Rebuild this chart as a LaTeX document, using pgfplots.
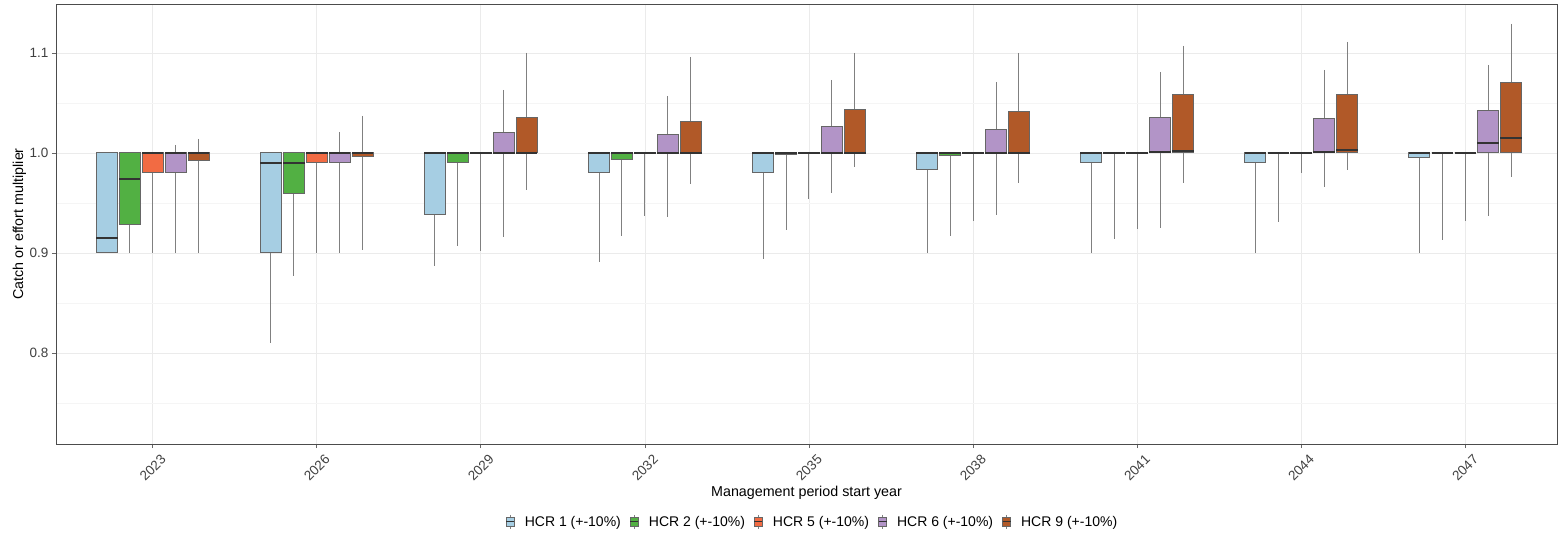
\documentclass[border=0pt]{standalone}
\usepackage{fontspec}
\setmainfont{Liberation Sans}
\usepackage{pgfplots}
\pgfplotsset{compat=1.18}
\usepgfplotslibrary{statistics}

\definecolor{hcrA}{HTML}{A6CEE3}
\definecolor{hcrB}{HTML}{52B043}
\definecolor{hcrC}{HTML}{F26B43}
\definecolor{hcrD}{HTML}{B294C7}
\definecolor{hcrE}{HTML}{B15928}

\pgfplotsset{
  hcrbox/.style={
    forget plot, draw=black!60, line width=1pt,
    boxplot/draw direction=y,
    boxplot/box extend=0.13, boxplot/whisker extend=0,
    boxplot/every whisker/.style={draw=black!50},
    boxplot/every median/.style={draw=black!80, line width=1.8pt},
  },
}
% colour, position, lower whisker, lower quartile, median, upper quartile, upper whisker
\newcommand{\bx}[7]{%
  \addplot[hcrbox, fill=#1, boxplot prepared={draw position=#2,
    lower whisker=#3, lower quartile=#4, median=#5,
    upper quartile=#6, upper whisker=#7}] coordinates {};}

\begin{document}
\begin{tikzpicture}
\path (-56pt,-91pt) rectangle (1502pt,444pt);
\begin{axis}[
  at={(0pt,0pt)}, anchor=south west,
  scale only axis,
  width=1501pt, height=440pt,
  xmin=-0.59, xmax=8.56, ymin=0.709, ymax=1.149,
  xtick={0,...,8},
  xticklabels={2023,2026,2029,2032,2035,2038,2041,2044,2047},
  ytick={0.8,0.9,1.0,1.1},
  minor ytick={0.75,0.85,0.95,1.05},
  grid=both,
  major grid style={black!8, line width=0.8pt},
  minor grid style={black!4, line width=0.5pt},
  axis line style={black!70, line width=0.8pt},
  tick style={black!60, line width=0.8pt},
  major tick length=4pt, minor tick length=0pt,
  tick align=outside, xtick pos=bottom, ytick pos=left,
  tick label style={font=\fontsize{13.5}{16}\selectfont, text=black!75},
  yticklabel style={/pgf/number format/.cd, fixed, fixed zerofill, precision=1, assume math mode=true},
  xticklabel style={rotate=45, anchor=center},
  xticklabel shift=20pt,
  xlabel={Management period start year},
  ylabel={Catch or effort multiplier},
  every axis x label/.style={at={(axis description cs:0.5,-0.11)}, anchor=center,
    font=\fontsize{14.3}{17}\selectfont},
  every axis y label/.style={at={(axis description cs:-0.0243,0.5)}, anchor=center, rotate=90,
    font=\fontsize{14.3}{17}\selectfont},
  legend style={at={(axis description cs:0.504,-0.177)}, anchor=center,
    legend columns=-1, draw=none, fill=none,
    font=\fontsize{14}{16}\selectfont,
    /tikz/every odd column/.append style={column sep=8pt},
    /tikz/every even column/.append style={column sep=7pt}},
  legend image code/.code={
    \draw[black!50, line width=0.6pt] (4pt,-7pt)--(4pt,7pt);
    \draw[#1, line width=0.8pt] (0pt,-4.5pt) rectangle (8pt,4.5pt);
    \draw[black!80, line width=1pt] (0pt,0pt)--(8pt,0pt);
  },
]
% HCR 1
\bx{hcrA}{-0.28}{0.900}{0.900}{0.915}{1.000}{1.000}
\bx{hcrA}{0.72}{0.810}{0.900}{0.990}{1.000}{1.000}
\bx{hcrA}{1.72}{0.887}{0.938}{1.000}{1.000}{1.000}
\bx{hcrA}{2.72}{0.891}{0.980}{1.000}{1.000}{1.000}
\bx{hcrA}{3.72}{0.894}{0.980}{1.000}{1.000}{1.000}
\bx{hcrA}{4.72}{0.900}{0.983}{1.000}{1.000}{1.000}
\bx{hcrA}{5.72}{0.900}{0.990}{1.000}{1.000}{1.000}
\bx{hcrA}{6.72}{0.900}{0.990}{1.000}{1.000}{1.000}
\bx{hcrA}{7.72}{0.900}{0.995}{1.000}{1.000}{1.000}
% HCR 2
\bx{hcrB}{-0.14}{0.900}{0.928}{0.974}{1.000}{1.000}
\bx{hcrB}{0.86}{0.877}{0.959}{0.990}{1.000}{1.000}
\bx{hcrB}{1.86}{0.907}{0.990}{1.000}{1.000}{1.000}
\bx{hcrB}{2.86}{0.917}{0.993}{1.000}{1.000}{1.000}
\bx{hcrB}{3.86}{0.923}{0.998}{1.000}{1.000}{1.000}
\bx{hcrB}{4.86}{0.917}{0.997}{1.000}{1.000}{1.000}
\bx{hcrB}{5.86}{0.914}{1.000}{1.000}{1.000}{1.000}
\bx{hcrB}{6.86}{0.931}{1.000}{1.000}{1.000}{1.000}
\bx{hcrB}{7.86}{0.913}{1.000}{1.000}{1.000}{1.000}
% HCR 5
\bx{hcrC}{0}{0.900}{0.980}{1.000}{1.000}{1.000}
\bx{hcrC}{1}{0.900}{0.990}{1.000}{1.000}{1.000}
\bx{hcrC}{2}{0.902}{1.000}{1.000}{1.000}{1.000}
\bx{hcrC}{3}{0.937}{1.000}{1.000}{1.000}{1.000}
\bx{hcrC}{4}{0.954}{1.000}{1.000}{1.000}{1.000}
\bx{hcrC}{5}{0.932}{1.000}{1.000}{1.000}{1.000}
\bx{hcrC}{6}{0.924}{1.000}{1.000}{1.000}{1.000}
\bx{hcrC}{7}{0.980}{1.000}{1.000}{1.000}{1.000}
\bx{hcrC}{8}{0.932}{1.000}{1.000}{1.000}{1.000}
% HCR 6
\bx{hcrD}{0.14}{0.900}{0.980}{1.000}{1.000}{1.008}
\bx{hcrD}{1.14}{0.900}{0.990}{1.000}{1.000}{1.021}
\bx{hcrD}{2.14}{0.916}{1.000}{1.000}{1.020}{1.063}
\bx{hcrD}{3.14}{0.936}{1.000}{1.000}{1.018}{1.057}
\bx{hcrD}{4.14}{0.960}{1.000}{1.000}{1.026}{1.073}
\bx{hcrD}{5.14}{0.938}{1.000}{1.000}{1.023}{1.071}
\bx{hcrD}{6.14}{0.925}{1.000}{1.001}{1.035}{1.081}
\bx{hcrD}{7.14}{0.966}{1.000}{1.001}{1.034}{1.083}
\bx{hcrD}{8.14}{0.937}{1.000}{1.010}{1.042}{1.088}
% HCR 9
\bx{hcrE}{0.28}{0.900}{0.992}{1.000}{1.000}{1.014}
\bx{hcrE}{1.28}{0.903}{0.996}{1.000}{1.000}{1.037}
\bx{hcrE}{2.28}{0.963}{1.000}{1.000}{1.035}{1.100}
\bx{hcrE}{3.28}{0.969}{1.000}{1.000}{1.031}{1.096}
\bx{hcrE}{4.28}{0.986}{1.000}{1.000}{1.043}{1.100}
\bx{hcrE}{5.28}{0.970}{1.000}{1.000}{1.041}{1.100}
\bx{hcrE}{6.28}{0.970}{1.000}{1.002}{1.058}{1.107}
\bx{hcrE}{7.28}{0.983}{1.000}{1.003}{1.058}{1.111}
\bx{hcrE}{8.28}{0.976}{1.000}{1.015}{1.070}{1.129}

\addlegendimage{fill=hcrA, draw=black!60}
\addlegendentry{HCR 1 (+-10\%)}
\addlegendimage{fill=hcrB, draw=black!60}
\addlegendentry{HCR 2 (+-10\%)}
\addlegendimage{fill=hcrC, draw=black!60}
\addlegendentry{HCR 5 (+-10\%)}
\addlegendimage{fill=hcrD, draw=black!60}
\addlegendentry{HCR 6 (+-10\%)}
\addlegendimage{fill=hcrE, draw=black!60}
\addlegendentry{HCR 9 (+-10\%)}
\end{axis}
\end{tikzpicture}
\end{document}
